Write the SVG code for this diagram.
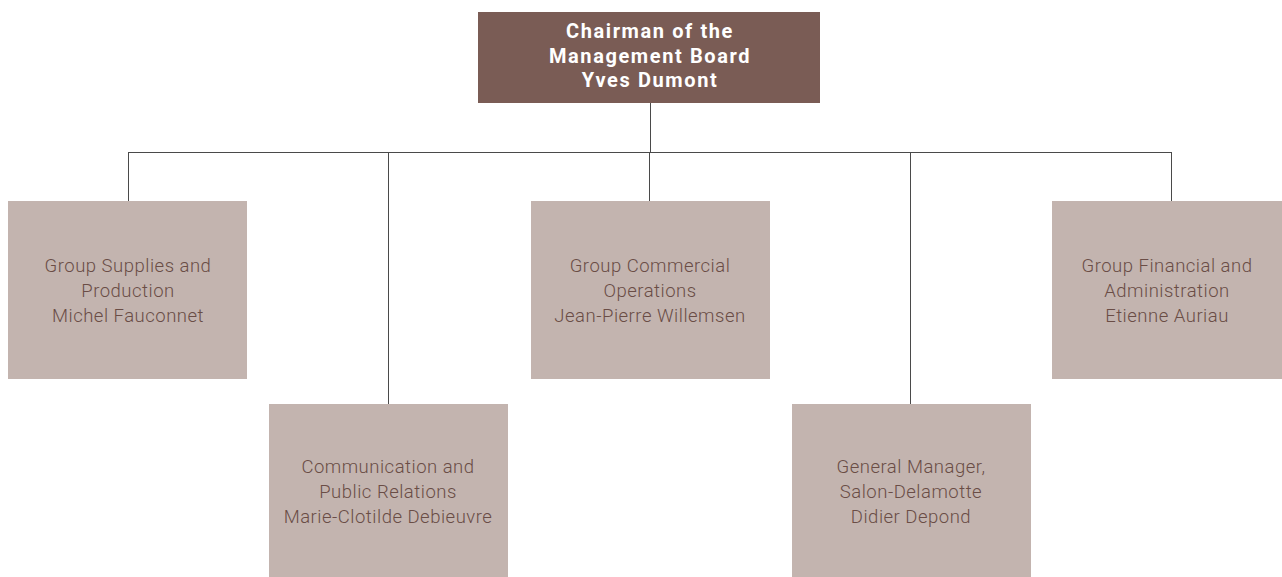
<svg xmlns="http://www.w3.org/2000/svg" width="1282" height="577" viewBox="0 0 1282 577">
<style>
.top{fill:#7a5c55}
.box{fill:#c3b4af}
.t{font-family:Roboto,"Liberation Sans",sans-serif;font-weight:300;font-size:18.5px;letter-spacing:0.5px;fill:#6a4d46;text-anchor:middle}
.th{font-family:Roboto,"Liberation Sans",sans-serif;font-weight:700;font-size:20px;letter-spacing:1.6px;fill:#ffffff;text-anchor:middle}
.c{stroke:#4a4a4a;stroke-width:1;fill:none}
</style>
<rect width="1282" height="577" fill="#ffffff"/>
<g id="connectors">
<path class="c" d="M650.5 103V152.5M128.5 152.5H1171.5M128.5 152V201M388.5 152V404M649.5 152V201M910.5 152V404M1171.5 152V201"/>
</g>
<g id="chairman">
<rect class="top" x="478" y="12" width="342" height="91"/>
<text class="th" x="650" y="38">Chairman of the</text>
<text class="th" x="650" y="63">Management Board</text>
<text class="th" x="650" y="87">Yves Dumont</text>
</g>
<g id="supplies">
<rect class="box" x="8" y="201" width="239" height="178"/>
<text class="t" x="128" y="272">Group Supplies and</text>
<text class="t" x="128" y="297">Production</text>
<text class="t" x="128" y="322">Michel Fauconnet</text>
</g>
<g id="communication">
<rect class="box" x="269" y="404" width="239" height="173"/>
<text class="t" x="388" y="473">Communication and</text>
<text class="t" x="388" y="498">Public Relations</text>
<text class="t" x="388" y="523">Marie-Clotilde Debieuvre</text>
</g>
<g id="commercial">
<rect class="box" x="531" y="201" width="239" height="178"/>
<text class="t" x="650" y="272">Group Commercial</text>
<text class="t" x="650" y="297">Operations</text>
<text class="t" x="650" y="322">Jean-Pierre Willemsen</text>
</g>
<g id="salon">
<rect class="box" x="792" y="404" width="239" height="173"/>
<text class="t" x="911" y="473">General Manager,</text>
<text class="t" x="911" y="498">Salon-Delamotte</text>
<text class="t" x="911" y="523">Didier Depond</text>
</g>
<g id="financial">
<rect class="box" x="1052" y="201" width="230" height="178"/>
<text class="t" x="1167" y="272">Group Financial and</text>
<text class="t" x="1167" y="297">Administration</text>
<text class="t" x="1167" y="322">Etienne Auriau</text>
</g>
</svg>
